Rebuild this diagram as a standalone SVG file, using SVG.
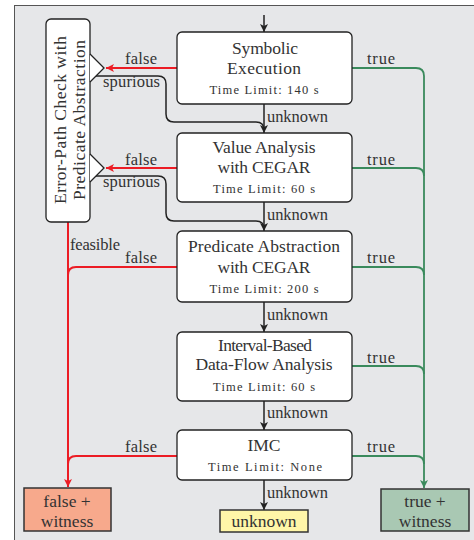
<svg xmlns="http://www.w3.org/2000/svg" width="474" height="540" viewBox="0 0 474 540">
  <style>
    text { font-family: "Liberation Serif", "Times New Roman", serif; fill: #333; }
    .t { font-size: 17.5px; text-anchor: middle; }
    .tl { font-size: 12.5px; text-anchor: middle; }
    .lbl { font-size: 16.5px; }
    .node { fill: #fff; stroke: #222; stroke-width: 1.3; }
    .blk { fill: none; stroke: #222; stroke-width: 1.5; }
    .red { fill: none; stroke: #ec1c24; stroke-width: 2; }
    .grn { fill: none; stroke: #3a8a5c; stroke-width: 1.8; }
  </style>
  <defs>
    <marker id="ahB" markerUnits="userSpaceOnUse" markerWidth="10" markerHeight="10" refX="8" refY="4" orient="auto">
      <path d="M0,0 L8,4 L0,8 L2,4 z" fill="#222"/>
    </marker>
    <marker id="ahR" markerUnits="userSpaceOnUse" markerWidth="10" markerHeight="10" refX="8" refY="4" orient="auto">
      <path d="M0,0 L8,4 L0,8 L2,4 z" fill="#ec1c24"/>
    </marker>
    <marker id="ahG" markerUnits="userSpaceOnUse" markerWidth="10" markerHeight="10" refX="8" refY="4" orient="auto">
      <path d="M0,0 L8,4 L0,8 L2,4 z" fill="#3a8a5c"/>
    </marker>
  </defs>

  <!-- panel -->
  <rect x="14.5" y="5.5" width="470" height="545" fill="#e6e7e9" stroke="#555" stroke-width="1"/>

  <!-- connectors -->
  <g id="connectors">
    <!-- sequential "unknown" chain -->
    <path class="blk" d="M264,15 V32" marker-end="url(#ahB)"/>
    <path class="blk" d="M264,104 V133" marker-end="url(#ahB)"/>
    <path class="blk" d="M264,202 V231" marker-end="url(#ahB)"/>
    <path class="blk" d="M264,302 V332" marker-end="url(#ahB)"/>
    <path class="blk" d="M264,401 V430" marker-end="url(#ahB)"/>
    <path class="blk" d="M264,480 V510" marker-end="url(#ahB)"/>
    <!-- spurious feedback paths -->
    <path class="blk" d="M96,76 H158 Q166,76 166,84 V114 Q166,122 174,122 H256 Q264,122 264,130"/>
    <path class="blk" d="M96,176 H158 Q166,176 166,184 V213 Q166,221 174,221 H256 Q264,221 264,229"/>
    <!-- false results -->
    <path class="red" d="M177,68 H106" marker-end="url(#ahR)"/>
    <path class="red" d="M177,168 H106" marker-end="url(#ahR)"/>
    <path class="red" d="M177,267 H76 Q68,267 68,275"/>
    <path class="red" d="M177,456 H76 Q68,456 68,464"/>
    <path class="red" d="M68,222 V487" marker-end="url(#ahR)"/>
    <!-- true results -->
    <path class="grn" d="M352,68 H416 Q424,68 424,76"/>
    <path class="grn" d="M352,168 H416 Q424,168 424,176"/>
    <path class="grn" d="M352,267 H416 Q424,267 424,275"/>
    <path class="grn" d="M352,366 H416 Q424,366 424,374"/>
    <path class="grn" d="M352,456 H416 Q424,456 424,464"/>
    <path class="grn" d="M424,76 V488" marker-end="url(#ahG)"/>
    <!-- edge labels -->
    <text class="lbl" x="125" y="64" textLength="32">false</text>
    <text class="lbl" x="125" y="165" textLength="32">false</text>
    <text class="lbl" x="125" y="263" textLength="32">false</text>
    <text class="lbl" x="125" y="452" textLength="32">false</text>
    <text class="lbl" x="103" y="87" textLength="57">spurious</text>
    <text class="lbl" x="103" y="187" textLength="57">spurious</text>
    <text class="lbl" x="70" y="250" textLength="50">feasible</text>
    <text class="lbl" x="367" y="64" textLength="28">true</text>
    <text class="lbl" x="367" y="165" textLength="28">true</text>
    <text class="lbl" x="367" y="263" textLength="28">true</text>
    <text class="lbl" x="367" y="363" textLength="28">true</text>
    <text class="lbl" x="367" y="452" textLength="28">true</text>
    <text class="lbl" x="267" y="122" textLength="61">unknown</text>
    <text class="lbl" x="267" y="220" textLength="61">unknown</text>
    <text class="lbl" x="267" y="320" textLength="61">unknown</text>
    <text class="lbl" x="267" y="418" textLength="61">unknown</text>
    <text class="lbl" x="267" y="498" textLength="61">unknown</text>
  </g>

  <!-- error-path check -->
  <g id="error-path-check">
    <rect class="node" x="46" y="19" width="44" height="203" rx="5"/>
    <path d="M90,54 L104,68 L90,82" fill="#fff" stroke="#222" stroke-width="1.3"/>
    <path d="M90,154 L104,168 L90,182" fill="#fff" stroke="#222" stroke-width="1.3"/>
    <text class="t" transform="translate(66,120) rotate(-90)" textLength="168">Error-Path Check with</text>
    <text class="t" transform="translate(85,120) rotate(-90)" textLength="160">Predicate Abstraction</text>
  </g>

  <g id="symbolic-execution">
    <rect class="node" x="177" y="32" width="175" height="72" rx="5"/>
    <text class="t" x="265" y="54" textLength="66">Symbolic</text>
    <text class="t" x="264" y="74" textLength="74">Execution</text>
    <text class="tl" x="264" y="94" textLength="109">Time Limit: 140 s</text>
  </g>

  <g id="value-analysis">
    <rect class="node" x="177" y="133" width="175" height="69" rx="5"/>
    <text class="t" x="264" y="153" textLength="103">Value Analysis</text>
    <text class="t" x="264" y="173" textLength="93">with CEGAR</text>
    <text class="tl" x="264" y="193" textLength="102">Time Limit: 60 s</text>
  </g>

  <g id="predicate-abstraction">
    <rect class="node" x="177" y="231" width="175" height="71" rx="5"/>
    <text class="t" x="264" y="252" textLength="152">Predicate Abstraction</text>
    <text class="t" x="264" y="273" textLength="93">with CEGAR</text>
    <text class="tl" x="264" y="293" textLength="109">Time Limit: 200 s</text>
  </g>

  <g id="interval-analysis">
    <rect class="node" x="177" y="332" width="175" height="69" rx="5"/>
    <text class="t" x="265" y="351" textLength="94">Interval-Based</text>
    <text class="t" x="264" y="370" textLength="137">Data-Flow Analysis</text>
    <text class="tl" x="264" y="391" textLength="102">Time Limit: 60 s</text>
  </g>

  <g id="imc">
    <rect class="node" x="177" y="430" width="175" height="50" rx="5"/>
    <text class="t" x="264" y="451" textLength="33">IMC</text>
    <text class="tl" x="265" y="471" textLength="114">Time Limit: None</text>
  </g>

  <g id="false-witness">
    <rect x="24" y="488" width="87" height="43" fill="#f7a98c" stroke="#333" stroke-width="1.5"/>
    <text class="t" x="67" y="507">false +</text>
    <text class="t" x="67" y="527">witness</text>
  </g>

  <g id="unknown-result">
    <rect x="220" y="510" width="88" height="22" fill="#fff6a8" stroke="#333" stroke-width="1.5"/>
    <text class="t" x="264" y="527">unknown</text>
  </g>

  <g id="true-witness">
    <rect x="381" y="489" width="88" height="42" fill="#a9c8b3" stroke="#333" stroke-width="1.5"/>
    <text class="t" x="425" y="507">true +</text>
    <text class="t" x="425" y="527">witness</text>
  </g>
</svg>
